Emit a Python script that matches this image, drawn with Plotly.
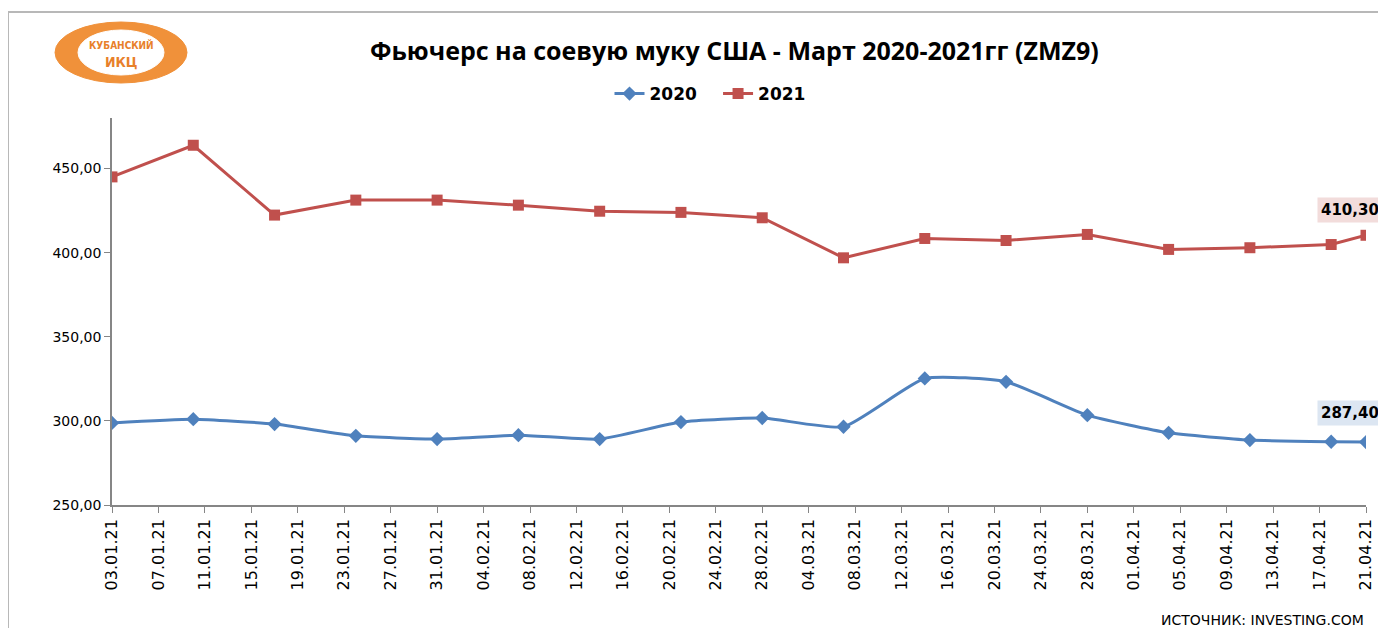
import plotly.graph_objects as go

dates = ["2021-01-03", "2021-01-10", "2021-01-17", "2021-01-24", "2021-01-31",
         "2021-02-07", "2021-02-14", "2021-02-21", "2021-02-28", "2021-03-07",
         "2021-03-14", "2021-03-21", "2021-03-28", "2021-04-04", "2021-04-11",
         "2021-04-18", "2021-04-21"]
values_2020 = [298.8, 301.0, 298.1, 291.1, 289.2, 291.5, 289.2, 299.3, 301.7, 296.5,
               325.2, 323.2, 303.4, 292.9, 288.6, 287.6, 287.4]
values_2021 = [445.0, 463.8, 422.3, 431.2, 431.2, 428.2, 424.6, 423.9, 420.7, 396.9,
               408.4, 407.2, 410.8, 401.9, 402.9, 404.8, 410.3]
series_names = ["2020", "2021"]
title_text = "Фьючерс на соевую муку США - Март 2020-2021гг (ZMZ9)"
source_text = "ИСТОЧНИК: INVESTING.COM"

BLUE = "#4f81bd"
RED = "#c0504d"

fig = go.Figure()
fig.add_trace(go.Scatter(
    x=dates, y=values_2020, name=f"<b>{series_names[0]}</b>&nbsp;&nbsp;&nbsp;", mode="lines+markers",
    line=dict(color=BLUE, width=3, shape="spline", smoothing=0.5),
    marker=dict(symbol="diamond", size=11, color=BLUE),
))
fig.add_trace(go.Scatter(
    x=dates, y=values_2021, name=f"<b>{series_names[1]}</b>", mode="lines+markers",
    line=dict(color=RED, width=3),
    marker=dict(symbol="square", size=11, color=RED),
))

def fmt(v):
    return f"{v:.2f}".replace(".", ",")

fig.add_annotation(x=dates[-1], y=values_2021[-1], text=f"<b>{fmt(values_2021[-1])}</b>",
                   showarrow=False, xanchor="center", yanchor="bottom", xshift=-16, yshift=12,
                   bgcolor="#f2dcdb", font=dict(family="DejaVu Sans", size=15, color="black"),
                   borderpad=3)
fig.add_annotation(x=dates[-1], y=values_2020[-1], text=f"<b>{fmt(values_2020[-1])}</b>",
                   showarrow=False, xanchor="center", yanchor="bottom", xshift=-16, yshift=16,
                   bgcolor="#dce6f2", font=dict(family="DejaVu Sans", size=15, color="black"),
                   borderpad=3)

# paper coordinates from page pixels (plot area spans x 112..1366, y 118..505 on the page)
def px(x):
    return (x - 112) / 1254
def py(y):
    return (505 - y) / 387

# title
fig.add_annotation(xref="paper", yref="paper", x=px(734), y=py(50),
                   text=f"<b>{title_text}</b>", showarrow=False, xanchor="center", yanchor="middle",
                   font=dict(family="Open Sans", size=25, color="black"))
# source
fig.add_annotation(xref="paper", yref="paper", x=1.0, y=py(610),
                   text=source_text, showarrow=False, xanchor="right", yanchor="top",
                   font=dict(family="DejaVu Sans", size=14, color="black"))

# frame
fig.add_shape(type="rect", xref="paper", yref="paper",
              x0=px(8), x1=1.2, y0=-0.6, y1=py(12),
              line=dict(color="#b8b8b8", width=2), layer="below")

# logo
fig.add_shape(type="circle", xref="paper", yref="paper",
              x0=px(55), x1=px(187), y0=py(83), y1=py(22),
              fillcolor="#f0913a", line=dict(color="#f0913a", width=1))
fig.add_shape(type="circle", xref="paper", yref="paper",
              x0=px(78), x1=px(164), y0=py(75), y1=py(30),
              fillcolor="white", line=dict(color="white", width=1))
fig.add_annotation(xref="paper", yref="paper", x=px(121), y=py(45),
                   text="<b>КУБАНСКИЙ</b>", showarrow=False, xanchor="center", yanchor="middle",
                   font=dict(family="DejaVu Sans Condensed", size=10, color="#e8802a"))
fig.add_annotation(xref="paper", yref="paper", x=px(121), y=py(62),
                   text="<b>ИКЦ</b>", showarrow=False, xanchor="center", yanchor="middle",
                   font=dict(family="DejaVu Sans Condensed", size=14, color="#e8802a"))

# the page places the figure 8px from the top-left corner, so margins compensate
fig.update_layout(
    width=1386, height=628,
    paper_bgcolor="white", plot_bgcolor="white",
    margin=dict(l=104, r=28, t=110, b=131, autoexpand=False),
    separators=", ",
    showlegend=True,
    legend=dict(orientation="h", x=px(710), y=py(94),
                xanchor="center", yanchor="middle",
                font=dict(family="DejaVu Sans", size=17, color="black"),
                itemwidth=30, bgcolor="rgba(0,0,0,0)"),
    xaxis=dict(
        type="date", range=["2021-01-03", "2021-04-21"],
        tick0="2021-01-03", dtick=4 * 86400000, tickformat="%d.%m.%y",
        tickangle=-90, ticks="outside", ticklen=6, tickcolor="#868686",
        showline=True, linecolor="#868686", linewidth=1.5, showgrid=False, zeroline=False,
        tickfont=dict(family="DejaVu Sans", size=16, color="black"),
    ),
    yaxis=dict(
        range=[250, 480], tick0=250, dtick=50, tickformat=".2f",
        ticks="outside", ticklen=6, tickcolor="#868686",
        showline=True, linecolor="#868686", linewidth=1.5, showgrid=False, zeroline=False,
        tickfont=dict(family="DejaVu Sans", size=14, color="black"),
    ),
)

fig.write_html("out.html")
